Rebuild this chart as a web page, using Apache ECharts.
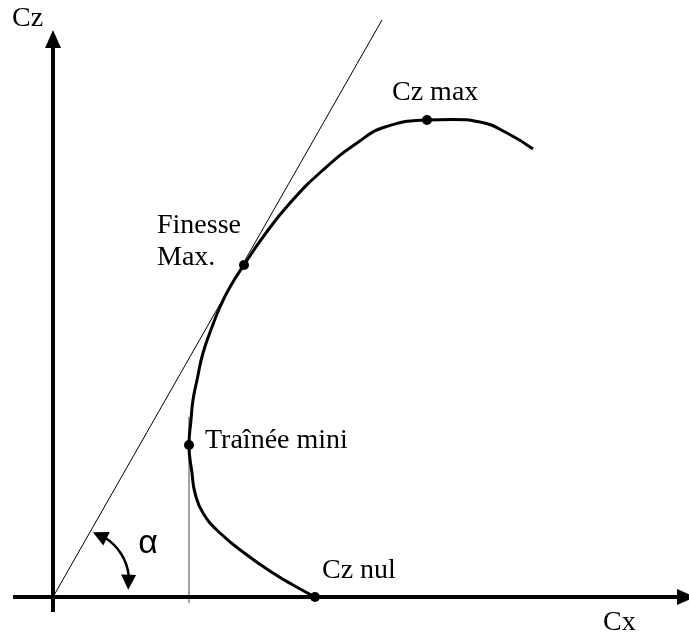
<!DOCTYPE html>
<html>
<head>
<meta charset="utf-8">
<script src="https://cdn.jsdelivr.net/npm/echarts@6/dist/echarts.min.js"></script>
<style>
html, body { margin: 0; padding: 0; background: #fff; }
#polaire { width: 689px; height: 636px; }
</style>
</head>
<body>
<div id="polaire"></div>
<script>
// courbe polaire Cz = f(Cx)
var curveCx = [0.131, 0.120, 0.110, 0.097, 0.0835, 0.075, 0.071, 0.0695, 0.068, 0.069, 0.070, 0.072, 0.075, 0.0795, 0.0835, 0.0885, 0.0955, 0.105, 0.1185, 0.135, 0.152, 0.166, 0.187, 0.200, 0.2135, 0.227, 0.240];
var curveCz = [0, 0.03, 0.06, 0.105, 0.16, 0.21, 0.26, 0.31, 0.38, 0.4425, 0.4925, 0.5425, 0.61, 0.675, 0.725, 0.775, 0.83, 0.90, 0.985, 1.0675, 1.135, 1.175, 1.1925, 1.194, 1.1875, 1.16, 1.12];

// points remarquables
var pointNames = ['Cz nul', 'Traînée mini', 'Finesse\nMax.', 'Cz max'];
var pointCx = [0.131, 0.068, 0.0955, 0.187];
var pointCz = [0, 0.38, 0.83, 1.1925];

// tangente depuis l'origine (finesse max) et verticale de la traînée mini
var tangentCx = [0, 0.1645];
var tangentCz = [0, 1.4425];
var traineeCx = [0.068, 0.068];
var traineeCz = [0.45, -0.015];

// axes
var axisX = [-0.02, 0.3165];
var axisY = [-0.0375, 1.395];

var labelOffsets = {
  'Cz nul': [7, -26.5],
  'Traînée mini': [16, -4.5],
  'Finesse\nMax.': [-87, -23.5],
  'Cz max': [-35, -27.5]
};

var chart = echarts.init(document.getElementById('polaire'));

var font = 'Liberation Serif, Times New Roman, serif';

var option = {
  animation: false,
  backgroundColor: '#fff',
  grid: { left: 0, right: 0, top: 0, bottom: 0 },
  xAxis: {
    type: 'value', min: -0.0265, max: 0.318,
    axisLine: { show: false }, axisTick: { show: false },
    axisLabel: { show: false }, splitLine: { show: false }
  },
  yAxis: {
    type: 'value', min: -0.0975, max: 1.4925,
    axisLine: { show: false }, axisTick: { show: false },
    axisLabel: { show: false }, splitLine: { show: false }
  },
  series: [
    {
      type: 'line',
      data: tangentCx.map(function (x, i) { return [x, tangentCz[i]]; }),
      symbol: 'none',
      lineStyle: { color: '#000', width: 1 },
      silent: true,
      z: 1
    },
    {
      type: 'line',
      data: traineeCx.map(function (x, i) { return [x, traineeCz[i]]; }),
      symbol: 'none',
      lineStyle: { color: '#444', width: 1 },
      silent: true,
      z: 1
    },
    {
      type: 'line',
      data: [],
      silent: true,
      markLine: {
        silent: true,
        symbol: ['none', 'triangle'],
        symbolSize: [16, 18],
        label: { show: false },
        lineStyle: { color: '#000', width: 4, type: 'solid' },
        data: [
          [{ coord: [axisX[0], 0] }, { coord: [axisX[1], 0] }],
          [{ coord: [0, axisY[0]] }, { coord: [0, axisY[1]] }]
        ]
      },
      z: 2
    },
    {
      type: 'line',
      data: curveCx.map(function (x, i) { return [x, curveCz[i]]; }),
      symbol: 'none',
      smooth: 0.5,
      lineStyle: { color: '#000', width: 3 },
      silent: true,
      z: 3
    },
    {
      type: 'scatter',
      data: pointNames.map(function (n, i) {
        return {
          name: n,
          value: [pointCx[i], pointCz[i]],
          label: { offset: labelOffsets[n] }
        };
      }),
      symbolSize: 10,
      itemStyle: { color: '#000', opacity: 1 },
      label: {
        show: true,
        position: 'inside',
        align: 'left',
        verticalAlign: 'middle',
        formatter: '{b}',
        color: '#000',
        opacity: 1,
        fontFamily: font,
        fontSize: 28,
        lineHeight: 32
      },
      silent: true,
      z: 4
    }
  ]
};
chart.setOption(option);

// angle alpha : arc fléché près de l'origine
var o = chart.convertToPixel({ gridIndex: 0 }, [0, 0]);
var ac = [o[0] + 25, o[1] - 16];
var ar = 51;
function arrowHead(tipDeg, baseDeg) {
  var t = tipDeg * Math.PI / 180, b = baseDeg * Math.PI / 180;
  var tip = [ac[0] + ar * Math.cos(t), ac[1] + ar * Math.sin(t)];
  var base = [ac[0] + ar * Math.cos(b), ac[1] + ar * Math.sin(b)];
  var dx = tip[0] - base[0], dy = tip[1] - base[1];
  var len = Math.sqrt(dx * dx + dy * dy);
  var nx = -dy / len * 7.5, ny = dx / len * 7.5;
  return {
    type: 'polygon',
    shape: { points: [tip, [base[0] + nx, base[1] + ny], [base[0] - nx, base[1] - ny]] },
    style: { fill: '#000' },
    silent: true
  };
}

chart.setOption({
  graphic: [
    {
      type: 'arc',
      shape: { cx: ac[0], cy: ac[1], r: ar, startAngle: -58 * Math.PI / 180, endAngle: -6 * Math.PI / 180, clockwise: true },
      style: { stroke: '#000', lineWidth: 2.5, fill: null },
      silent: true
    },
    arrowHead(-73, -56),
    arrowHead(10, -7),
    {
      type: 'text', x: 148, y: 544,
      style: { text: 'α', font: '34px "Liberation Sans", Arial, sans-serif', fill: '#000', align: 'center', verticalAlign: 'middle' },
      silent: true
    },
    {
      type: 'text', x: 12, y: 18.5,
      style: { text: 'Cz', font: '28px ' + font, fill: '#000', align: 'left', verticalAlign: 'middle' },
      silent: true
    },
    {
      type: 'text', x: 603, y: 622.5,
      style: { text: 'Cx', font: '28px ' + font, fill: '#000', align: 'left', verticalAlign: 'middle' },
      silent: true
    }
  ]
});

window.onresize = chart.resize;
</script>
</body>
</html>
